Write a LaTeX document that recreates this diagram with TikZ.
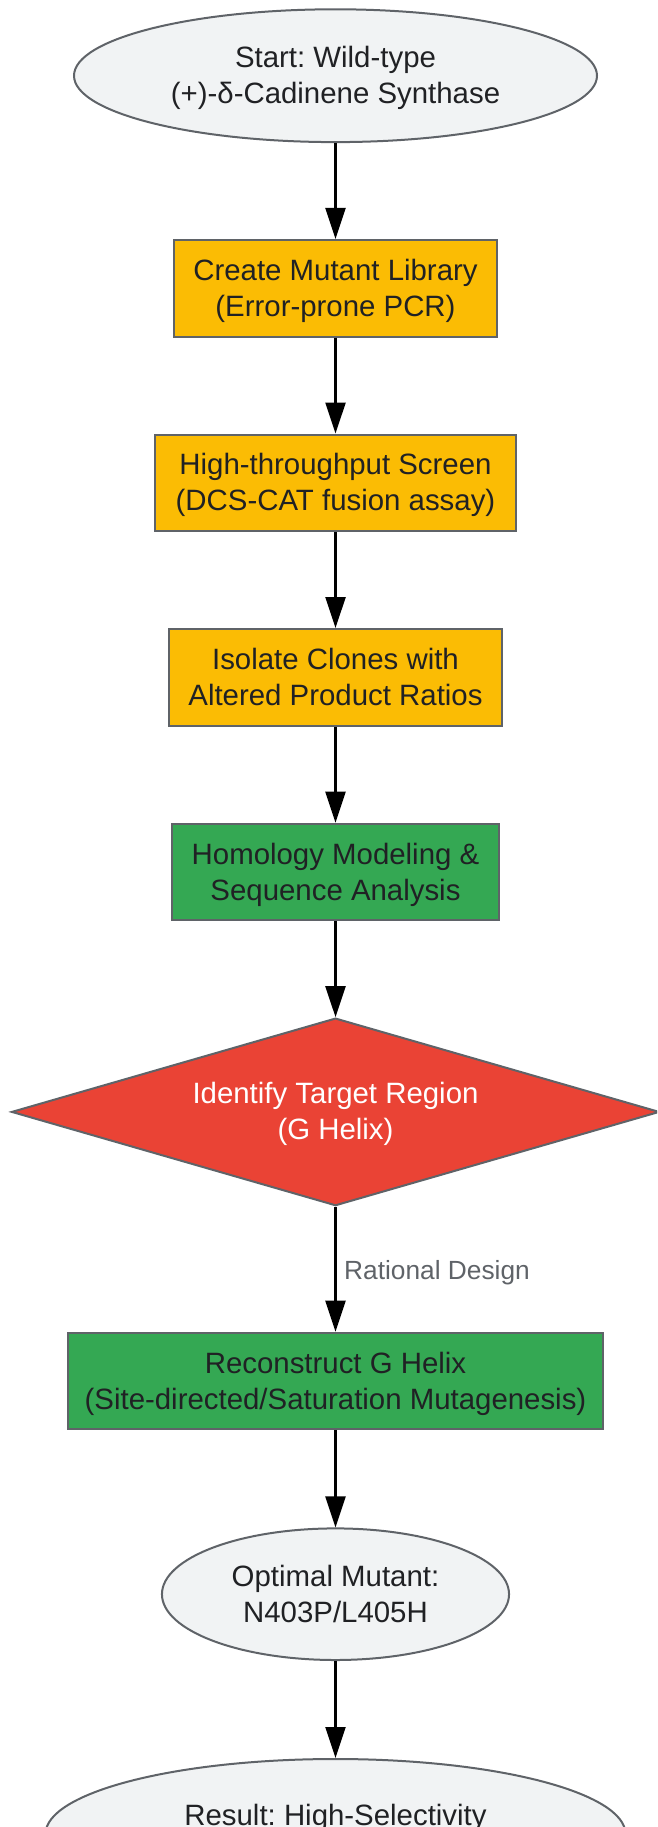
\documentclass[tikz,border=0pt]{standalone}
\usepackage{fontspec}
\setmainfont{Liberation Sans}
\usetikzlibrary{shapes.geometric,arrows.meta}
\definecolor{nodegray}{HTML}{F1F3F4}
\definecolor{strokegray}{HTML}{5F6368}
\definecolor{gyellow}{HTML}{FBBC04}
\definecolor{ggreen}{HTML}{34A853}
\definecolor{gred}{HTML}{EA4335}
\definecolor{txtdark}{HTML}{202124}
\frenchspacing
\begin{document}
\begin{tikzpicture}[x=1pt,y=-1pt,
  base/.style={draw=strokegray, line width=2pt, inner sep=0pt, align=center, text=txtdark, font=\fontsize{29.4}{36}\selectfont,
    text height=64pt, text depth=8pt},
  oval/.style={base, ellipse, fill=nodegray},
  ybox/.style={base, rectangle, fill=gyellow, minimum height=96.7pt},
  gbox/.style={base, rectangle, fill=ggreen, minimum height=96.7pt},
  decision/.style={base, diamond, fill=gred, text=white, aspect=3.454},
  flow/.style={-{Triangle[length=31pt,width=20pt]}, line width=2.3pt, black},
  elabel/.style={font=\fontsize{26.3}{32}\selectfont, text=strokegray, anchor=west, inner sep=0pt}
]
\useasboundingbox (0,0) rectangle (657,1827);
\clip (0,0) rectangle (657,1827);

\node[oval, minimum width=523pt, minimum height=132.8pt] (start) at (335.5,75.7) {Start: Wild-type\\(+)-δ-Cadinene Synthase};
\node[ybox, minimum width=323.8pt] (lib) at (335.5,288.3) {Create Mutant Library\\(Error-prone PCR)};
\node[ybox, minimum width=361pt] (screen) at (335.5,482.9) {High-throughput Screen\\(DCS-CAT fusion assay)};
\node[ybox, minimum width=333.2pt] (iso) at (335.5,677.4) {Isolate Clones with\\Altered Product Ratios};
\node[gbox, minimum width=326.2pt] (hom) at (335.5,872) {Homology Modeling \&\\Sequence Analysis};
\node[decision, minimum width=648pt, minimum height=187.6pt] (dec) at (335.5,1111.9) {Identify Target Region\\(G Helix)};
\node[gbox, minimum width=535.9pt] (recon) at (335.5,1381) {Reconstruct G Helix\\(Site-directed/Saturation Mutagenesis)};
\node[oval, minimum width=347.1pt, minimum height=131.6pt] (opt) at (335.5,1594.2) {Optimal Mutant:\\N403P/L405H};
\node[oval, minimum width=580pt, minimum height=150pt, text height=10pt, text depth=28pt] (res) at (335.5,1834) {Result: High-Selectivity};

\draw[flow] (start) -- (lib);
\draw[flow] (lib) -- (screen);
\draw[flow] (screen) -- (iso);
\draw[flow] (iso) -- (hom);
\draw[flow] (hom) -- (dec);
\draw[flow] (dec) -- node[elabel, pos=0.5, xshift=7.5pt, yshift=-3.5pt] (rd) {Rational Design} (recon);
\draw[flow] (recon) -- (opt);
\draw[flow] (opt) -- (res);
\end{tikzpicture}
\end{document}
